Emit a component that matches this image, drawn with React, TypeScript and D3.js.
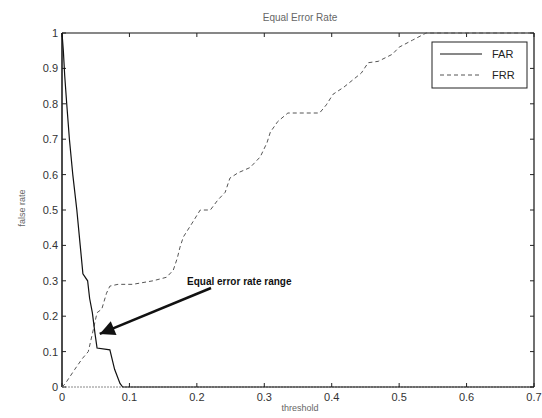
import React, { useRef, useEffect } from "react";
import * as d3 from "d3";

const farX = [0, 0.002, 0.004, 0.007, 0.011, 0.016, 0.022, 0.027, 0.031, 0.038, 0.041, 0.045, 0.049, 0.052, 0.071, 0.078, 0.086, 0.09, 0.7];
const farY = [1, 0.95, 0.88, 0.8, 0.7, 0.6, 0.5, 0.4, 0.32, 0.3, 0.25, 0.21, 0.15, 0.11, 0.105, 0.05, 0.01, 0, 0];

const frrX = [0, 0.005, 0.019, 0.03, 0.039, 0.045, 0.052, 0.059, 0.066, 0.071, 0.083, 0.105, 0.135, 0.155, 0.165, 0.171, 0.175, 0.18, 0.193, 0.205, 0.22, 0.231, 0.242, 0.249, 0.261, 0.279, 0.294, 0.304, 0.309, 0.32, 0.335, 0.382, 0.392, 0.402, 0.418, 0.444, 0.454, 0.469, 0.49, 0.5, 0.52, 0.54, 0.7];
const frrY = [0, 0.01, 0.05, 0.08, 0.1, 0.15, 0.21, 0.22, 0.265, 0.285, 0.29, 0.29, 0.3, 0.31, 0.33, 0.364, 0.395, 0.424, 0.463, 0.5, 0.5, 0.528, 0.55, 0.59, 0.605, 0.62, 0.65, 0.69, 0.72, 0.75, 0.774, 0.774, 0.797, 0.827, 0.847, 0.887, 0.916, 0.92, 0.94, 0.96, 0.98, 1, 1];

const xTicks = [0, 0.1, 0.2, 0.3, 0.4, 0.5, 0.6, 0.7];
const yTicks = [0, 0.1, 0.2, 0.3, 0.4, 0.5, 0.6, 0.7, 0.8, 0.9, 1];
const seriesNames = ["FAR", "FRR"];

const App = () => {
  const ref = useRef<SVGSVGElement>(null);

  useEffect(() => {
    const W = 542, H = 418;
    const m = { top: 33, right: 8, bottom: 31, left: 62 };
    const svg = d3.select(ref.current);
    svg.selectAll("*").remove();
    svg.attr("width", W).attr("height", H).style("display", "block").style("background", "#fff");

    const x = d3.scaleLinear().domain([0, 0.7]).range([m.left, W - m.right]);
    const y = d3.scaleLinear().domain([0, 1]).range([H - m.bottom, m.top]);
    const font = "Liberation Sans, Arial, sans-serif";

    // frame
    svg.append("line").attr("x1", x(0)).attr("x2", x(0.7)).attr("y1", y(1)).attr("y2", y(1)).attr("stroke", "#111").attr("stroke-width", 1.2);
    svg.append("line").attr("x1", x(0.7)).attr("x2", x(0.7)).attr("y1", y(1)).attr("y2", y(0)).attr("stroke", "#111").attr("stroke-width", 1.2);
    svg.append("line").attr("x1", x(0)).attr("x2", x(0.7)).attr("y1", y(0)).attr("y2", y(0)).attr("stroke", "#888").attr("stroke-width", 1).attr("stroke-dasharray", "2,1");
    svg.append("line").attr("x1", x(0)).attr("x2", x(0)).attr("y1", y(1)).attr("y2", y(0)).attr("stroke", "#111").attr("stroke-width", 1.5);

    // ticks, inward on all sides
    const tk = svg.append("g").attr("stroke", "#222").attr("stroke-width", 1);
    xTicks.forEach((v) => {
      tk.append("line").attr("x1", x(v)).attr("x2", x(v)).attr("y1", y(0)).attr("y2", y(0) - 4);
      tk.append("line").attr("x1", x(v)).attr("x2", x(v)).attr("y1", y(1)).attr("y2", y(1) + 4);
    });
    yTicks.forEach((v) => {
      tk.append("line").attr("x1", x(0)).attr("x2", x(0) + 4).attr("y1", y(v)).attr("y2", y(v));
      tk.append("line").attr("x1", x(0.7)).attr("x2", x(0.7) - 4).attr("y1", y(v)).attr("y2", y(v));
    });

    svg.append("g").selectAll("text").data(xTicks).join("text")
      .attr("x", (d) => x(d)).attr("y", y(0) + 14)
      .attr("text-anchor", "middle").attr("font-family", font).attr("font-size", 11).attr("fill", "#333")
      .text((d) => (d === 0 ? "0" : d3.format(".1f")(d)));
    svg.append("g").selectAll("text").data(yTicks).join("text")
      .attr("x", x(0) - 4).attr("y", (d) => y(d) + 4)
      .attr("text-anchor", "end").attr("font-family", font).attr("font-size", 11).attr("fill", "#333")
      .text((d) => (d === 0 || d === 1 ? String(d) : d3.format(".1f")(d)));

    // title, labels
    svg.append("text").attr("x", 300).attr("y", 21).attr("text-anchor", "middle")
      .attr("font-family", font).attr("font-size", 10).attr("fill", "#666").text("Equal Error Rate");
    svg.append("text").attr("x", 300).attr("y", 411).attr("text-anchor", "middle")
      .attr("font-family", font).attr("font-size", 9).attr("fill", "#666").text("threshold");
    svg.append("text").attr("transform", `translate(25, 208) rotate(-90)`).attr("text-anchor", "middle")
      .attr("font-family", font).attr("font-size", 9).attr("fill", "#666").text("false rate");

    // series
    const line = d3.line<[number, number]>().x((d) => x(d[0])).y((d) => y(d[1]));
    const far = farX.map((v, i) => [v, farY[i]] as [number, number]);
    const frr = frrX.map((v, i) => [v, frrY[i]] as [number, number]);
    svg.append("path").datum(frr).attr("d", line).attr("fill", "none")
      .attr("stroke", "#555").attr("stroke-width", 1).attr("stroke-dasharray", "4,3");
    svg.append("path").datum(far).attr("d", line).attr("fill", "none")
      .attr("stroke", "#111").attr("stroke-width", 1.2);

    // annotation
    svg.append("defs").append("marker").attr("id", "ah").attr("viewBox", "0 0 10 10")
      .attr("refX", 10).attr("refY", 5).attr("markerWidth", 8).attr("markerHeight", 6)
      .attr("markerUnits", "strokeWidth").attr("orient", "auto")
      .append("path").attr("d", "M0,0 L10,5 L0,10 z").attr("fill", "#111");
    svg.append("line").attr("x1", 211).attr("y1", 288).attr("x2", x(0.056)).attr("y2", y(0.15))
      .attr("stroke", "#111").attr("stroke-width", 2.5).attr("marker-end", "url(#ah)");
    svg.append("text").attr("x", 187).attr("y", 285).attr("font-family", font)
      .attr("font-size", 10).attr("font-weight", "bold").attr("fill", "#111").text("Equal error rate range");

    // legend
    const lg = svg.append("g");
    lg.append("rect").attr("x", 432).attr("y", 42).attr("width", 95).attr("height", 46)
      .attr("fill", "#fff").attr("stroke", "#222").attr("stroke-width", 1);
    seriesNames.forEach((n, i) => {
      const yy = 54 + i * 21;
      lg.append("line").attr("x1", 440).attr("x2", 482).attr("y1", yy).attr("y2", yy)
        .attr("stroke", i === 0 ? "#111" : "#555").attr("stroke-width", 1)
        .attr("stroke-dasharray", i === 0 ? null : "4,3");
      lg.append("text").attr("x", 492).attr("y", yy + 4).attr("font-family", font)
        .attr("font-size", 11).attr("fill", "#222").text(n);
    });
  }, []);

  return (
    <div style={{ position: "absolute", left: 0, top: 0 }}>
      <svg ref={ref}></svg>
    </div>
  );
};

export default App;
